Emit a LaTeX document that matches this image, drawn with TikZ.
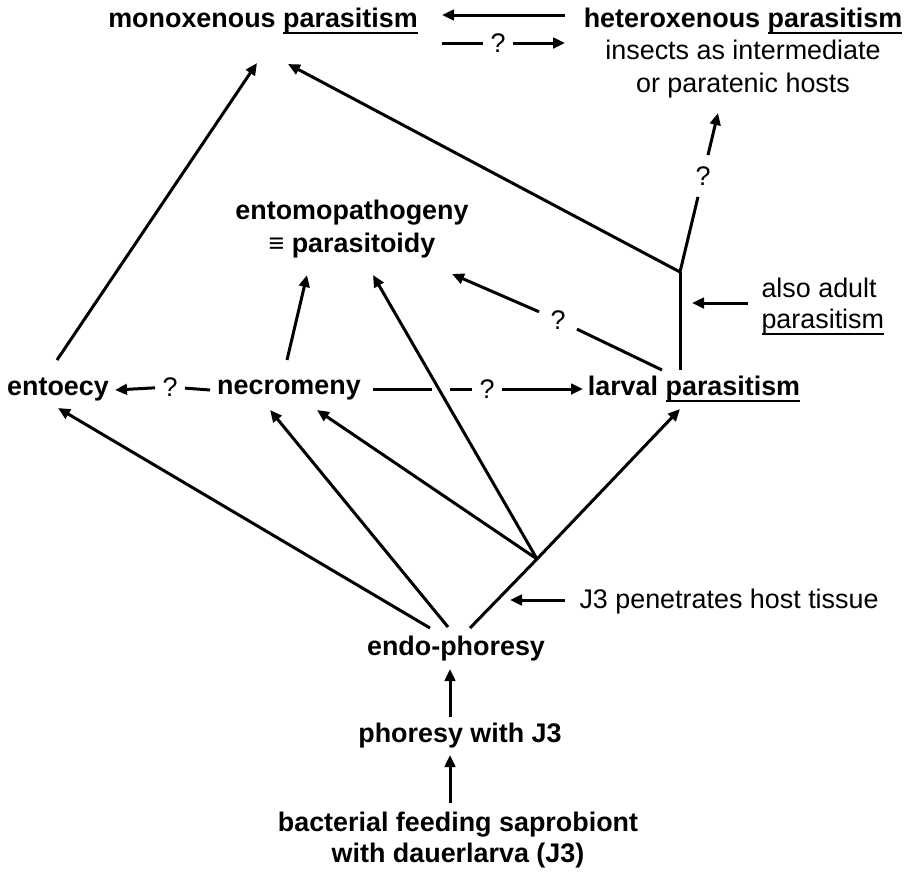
\documentclass[tikz,border=0pt]{standalone}
\usepackage{fontspec}
\setmainfont{Liberation Sans}
\usetikzlibrary{arrows.meta}

% underline drawn as a rule under the word
\newcommand{\parul}[1]{\leavevmode\setbox0=\hbox{#1}\rlap{\rule[-7.2pt]{\wd0}{2.4pt}}\box0}
\newcommand{\lblsize}{\fontsize{26.9}{32.5}\selectfont}
\newcommand{\lblsizetight}{\fontsize{26.9}{31}\selectfont}

\tikzset{
  lbl/.style={font=\lblsize\bfseries, inner sep=0pt, anchor=base, align=center},
  note/.style={font=\lblsize, inner sep=0pt, anchor=base west, align=left},
  qm/.style={font=\lblsize, inner sep=6pt},
  arr/.style={-{Triangle[length=12pt,width=10.5pt]}},
}

\begin{document}
\begin{tikzpicture}[x=1pt, y=-1pt, line width=3pt]
\useasboundingbox (0,0) rectangle (908,871);

% stages (multi-line nodes sit on their last baseline)
\node[lbl] (mono) at (263,27) {monoxenous \parul{parasitism}};
\node[lbl] (hetero) at (743,92) {heteroxenous \parul{parasitism}\\\mdseries insects as intermediate\\\mdseries or paratenic hosts};
\node[lbl] (entomo) at (352,252) {entomopathogeny\\≡ parasitoidy};
\node[lbl] (entoecy) at (58,395) {entoecy};
\node[lbl] (necro) at (289,394) {necromeny};
\node[lbl] (larval) at (694,395) {larval \parul{parasitism}};
\node[lbl] (endo) at (456,655) {endo-phoresy};
\node[lbl] (phoresy) at (460,742) {phoresy with J3};
\node[lbl, font=\lblsizetight\bfseries] (saprob) at (458,862) {bacterial feeding saprobiont\\with dauerlarva (J3)};

% side notes
\node[note, font=\lblsizetight] (adult) at (760,328) {also adult\\\parul{parasitism}};
\node[note] (penetr) at (578,608) {J3 penetrates host tissue};

% question marks
\node[qm] (q1) at (498,43) {?};
\node[qm] (q2) at (170,387) {?};
\node[qm] (q3) at (487,389) {?};
\node[qm, inner sep=10pt] (q4) at (558,320) {?};
\node[qm, inner sep=10pt] (q5) at (703,176) {?};

% branch points
\coordinate (split) at (680,272);
\coordinate (fork) at (537,559);

% top row
\draw[arr] ([shift={(-178,-77)}]hetero.base) -- ([shift={(179,-12)}]mono.base);
\draw ([shift={(179,16)}]mono.base) -- (q1);
\draw[arr] (q1) -- ([shift={(-178,-49)}]hetero.base);

% into monoxenous parasitism
\draw[arr] ([shift={(-1,-35)}]entoecy.base) -- ([shift={(-6,36)}]mono.base);
\draw[arr] (split) -- ([shift={(25,37)}]mono.base);

% larval parasitism upwards
\draw ([shift={(-14,-25)}]larval.base) -- (split);
\draw (split) -- (q5);
\draw[arr] (q5) -- ([shift={(-25,21)}]hetero.base);
\draw[arr] ([shift={(-12,-25)}]adult.base west) -- ([shift={(-68,-25)}]adult.base west);
\draw ([shift={(-32,-25)}]larval.base) -- (q4);
\draw[arr] (q4) -- ([shift={(100,22)}]entomo.base);

% middle row
\draw[arr] ([shift={(-2,-34)}]necro.base) -- ([shift={(-45,23)}]entomo.base);
\draw ([shift={(-79,-4)}]necro.base) -- (q2);
\draw[arr] (q2) -- ([shift={(57,-5)}]entoecy.base);
\draw ([shift={(84,-5)}]necro.base) -- ([shift={(143,-5)}]necro.base);
\draw ([shift={(161,-5)}]necro.base) -- (q3);
\draw[arr] (q3) -- ([shift={(-111,-6)}]larval.base);

% from endo-phoresy
\draw[arr] ([shift={(-26,-27)}]endo.base) -- ([shift={(0,13)}]entoecy.base);
\draw[arr] ([shift={(-8,-28)}]endo.base) -- ([shift={(-19,16)}]necro.base);
\draw ([shift={(14,-27)}]endo.base) -- (fork);
\draw[arr] (fork) -- ([shift={(-14,14)}]larval.base);
\draw[arr] (fork) -- ([shift={(28,16)}]necro.base);
\draw[arr] (fork) -- ([shift={(21,23)}]entomo.base);
\draw[arr] ([shift={(-13,-8)}]penetr.base west) -- ([shift={(-68,-8)}]penetr.base west);

% bottom chain
\draw[arr] ([shift={(-10,-25)}]phoresy.base) -- ([shift={(-6,14)}]endo.base);
\draw[arr] ([shift={(-8,-59)}]saprob.base) -- ([shift={(-10,13)}]phoresy.base);
\end{tikzpicture}
\end{document}
